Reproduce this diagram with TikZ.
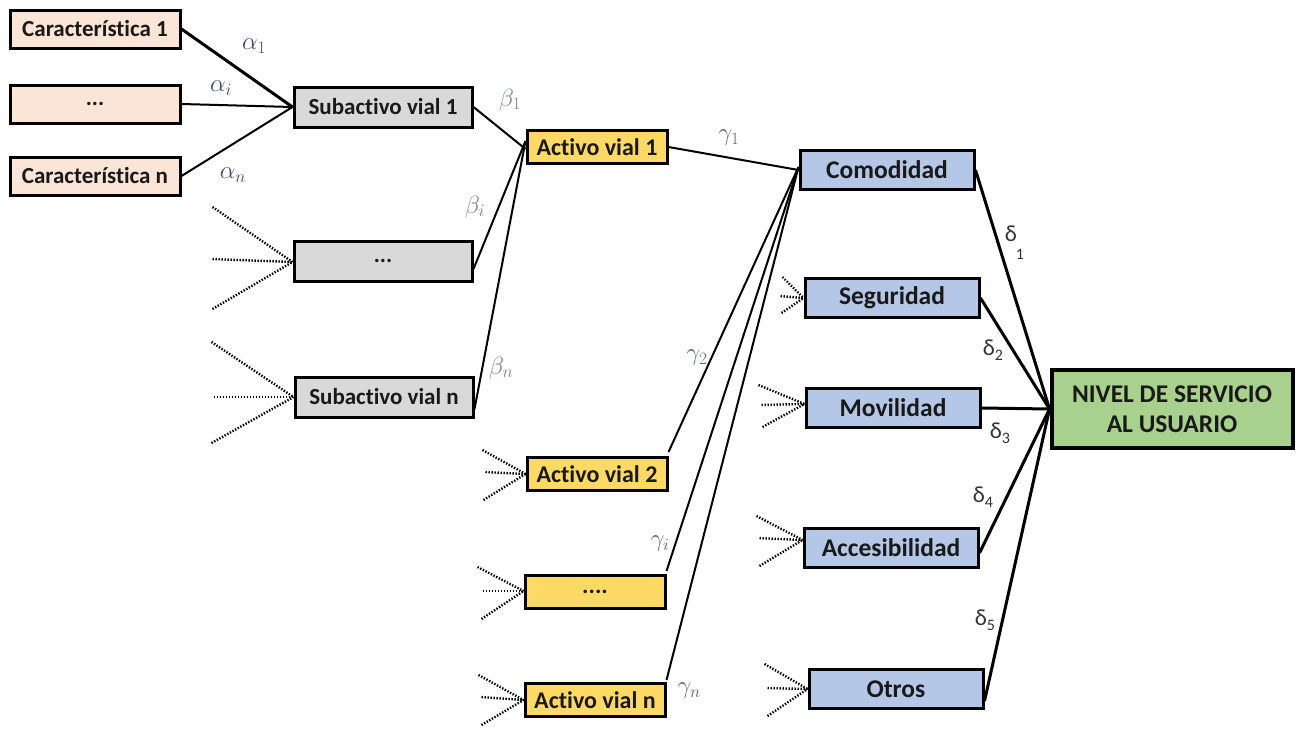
\documentclass[tikz,border=0pt]{standalone}
\usepackage{fontspec}
\setmainfont{Carlito}[Ligatures=NoCommon]
\usetikzlibrary{calc}
\definecolor{peach}{HTML}{FBE5D6}
\definecolor{greybox}{HTML}{D9D9D9}
\definecolor{goldbox}{HTML}{FFD966}
\definecolor{bluebox}{HTML}{B4C7E7}
\definecolor{greenbox}{HTML}{A9D18E}
\definecolor{alphacol}{HTML}{3F4868}
\definecolor{betacol}{HTML}{767D98}
\definecolor{gammacol}{HTML}{5A6282}
\definecolor{deltacol}{HTML}{333333}
\begin{document}
\begin{tikzpicture}[x=1pt,y=-1pt,
  box/.style={draw=black,line width=3pt,rectangle,inner sep=0pt,text=black!90,align=center},
  car/.style={box,fill=peach,minimum width=170pt,minimum height=38pt,font=\fontsize{23}{27}\selectfont\bfseries},
  sub/.style={box,fill=greybox,minimum width=178pt,minimum height=40pt,font=\fontsize{23}{27}\selectfont\bfseries},
  act/.style={box,fill=goldbox,minimum width=140pt,minimum height=33pt,font=\fontsize{24}{28}\selectfont\bfseries},
  crit/.style={box,fill=bluebox,minimum width=174pt,minimum height=39pt,font=\fontsize{25.5}{29}\selectfont\bfseries},
  goal/.style={box,fill=greenbox,minimum width=241pt,minimum height=78pt,line width=4pt,font=\fontsize{25.5}{29}\selectfont\bfseries},
  thin/.style={line width=2pt},
  thick/.style={line width=3pt},
  fan/.style={line width=2.4pt,dash pattern=on 1.4pt off 1.6pt},
  wlab/.style={inner sep=0pt,font=\fontsize{26}{28}\selectfont},
  dlab/.style={inner sep=0pt,text=deltacol,font=\fontsize{23}{26}\selectfont}]
\useasboundingbox (0,0) rectangle (1297,728);

% characteristics
\node[car] (c1) at (95,29) {Característica 1};
\node[car] (ci) at (95,104) {...};
\node[car] (cn) at (95,176) {Característica n};

% sub-assets
\node[sub] (s1) at (383,107) {Subactivo vial 1};
\node[sub] (sd) at (383,261) {...};
\node[sub] (sn) at (384,397) {Subactivo vial n};

% assets
\node[act] (a1) at (597,147) {Activo vial 1};
\node[act] (a2) at (597,474) {Activo vial 2};
\node[act] (ad) at (595,592) {....};
\node[act] (an) at (595,700) {Activo vial n};

% service criteria
\node[crit] (com) at (887,170) {Comodidad};
\node[crit] (seg) at (892,298) {Seguridad};
\node[crit] (mov) at (893,408) {Movilidad};
\node[crit] (acc) at (891,548) {Accesibilidad};
\node[crit] (otr) at (896,689) {Otros};

% overall level of service
\node[goal] (niv) at (1172,409) {NIVEL DE SERVICIO\\[1pt]AL USUARIO};

% characteristics -> sub-asset
\draw[thick] (c1.east) -- (s1.west);
\draw[thin] (ci.east) -- (s1.west);
\draw[thin] (cn.east) -- (s1.west);

% sub-assets -> asset
\draw[thin] (s1.east) -- ([yshift=-2pt]a1.west);
\draw[thin] ([yshift=-8pt]sd.east) -- ([yshift=6pt]a1.west);
\draw[thin] ([yshift=-12pt]sn.east) -- ([yshift=6pt]a1.west);

% assets -> criterion
\draw[thin] (a1.east) -- (com.west);
\draw[thin] ([yshift=4pt]a2.north east) -- ([yshift=3pt]com.west);
\draw[thin] ([yshift=3pt]ad.north east) -- ([yshift=3pt]com.west);
\draw[thin] ([yshift=2pt]an.north east) -- ([yshift=3pt]com.west);

% criteria -> level of service
\draw[thick] (com.east) -- (niv.west);
\draw[thick] (seg.east) -- (niv.west);
\draw[thick] (mov.east) -- (niv.west);
\draw[thick] ([yshift=-5pt]acc.east) -- (niv.west);
\draw[thick] ([yshift=-12pt]otr.east) -- (niv.west);

% dotted fans for elided inputs
\foreach \nm/\cy/\tx/\ty/\mx/\my/\bx/\by in {
  sd/-1/-80/-55/-80/-3/-80/47,
  sn/0/-82/-55/-80/0/-82/46,
  a2/0/-43/-24/-40/-2/-42/26,
  ad/1/-46/-24/-41/0/-42/28,
  an/0/-45/-25/-42/-3/-42/25,
  seg/0/-21/-21/-23/-2/-22/15,
  mov/4/-46/-19/-43/1/-42/23,
  acc/8/-46/-24/-43/-2/-43/26,
  otr/0/-43/-25/-40/-1/-40/27}{
  \coordinate (fanend) at ([yshift=\cy pt]\nm.west);
  \draw[fan] ($(fanend)+(\tx,\ty)$) -- (fanend);
  \draw[fan] ($(fanend)+(\mx,\my)$) -- (fanend);
  \draw[fan] ($(fanend)+(\bx,\by)$) -- (fanend);
}

% weights
\node[wlab,text=alphacol] (la1) at (254,46) {$\alpha_1$};
\node[wlab,text=alphacol] (lai) at (221,88) {$\alpha_i$};
\node[wlab,text=alphacol] (lan) at (233,175) {$\alpha_n$};
\node[wlab,text=betacol] (lb1) at (510,100) {$\beta_1$};
\node[wlab,text=betacol] (lbi) at (475,207) {$\beta_i$};
\node[wlab,text=betacol] (lbn) at (501,368) {$\beta_n$};
\node[wlab,text=gammacol] (lg1) at (729,138) {$\gamma_1$};
\node[wlab,text=gammacol] (lg2) at (697,358) {$\gamma_2$};
\node[wlab,text=gammacol] (lgi) at (660,544) {$\gamma_i$};
\node[wlab,text=gammacol] (lgn) at (689,691) {$\gamma_n$};
\node[dlab] (ld1) at (1011,234) {δ};
\node[dlab,font=\fontsize{16}{18}\selectfont] (ld1s) at (1020,254) {1};
\node[dlab] (ld2) at (993,350) {δ\raisebox{-5pt}{\fontsize{16}{18}\selectfont 2}};
\node[dlab] (ld3) at (1000,433) {δ\raisebox{-5pt}{\fontsize{16}{18}\selectfont 3}};
\node[dlab] (ld4) at (983,497) {δ\raisebox{-5pt}{\fontsize{16}{18}\selectfont 4}};
\node[dlab] (ld5) at (985,620) {δ\raisebox{-5pt}{\fontsize{16}{18}\selectfont 5}};
\end{tikzpicture}
\end{document}
